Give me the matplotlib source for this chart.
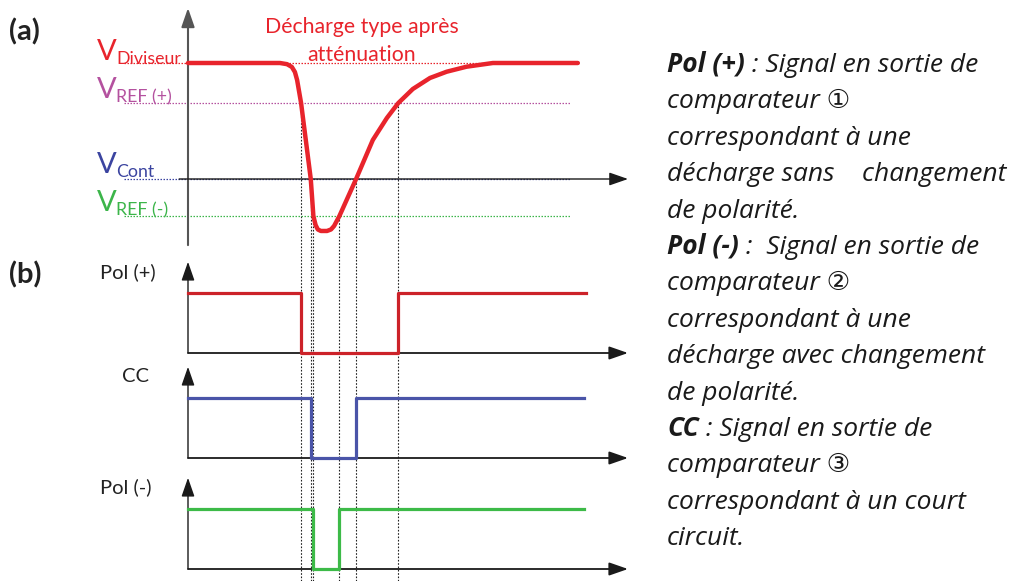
import matplotlib.pyplot as plt

plt.rcParams['font.family'] = ['Lato', 'DejaVu Sans']

# discharge waveform after attenuation (time in arbitrary units, voltage normalised to V_Diviseur)
t_curve = [0, 20.9, 22.5, 23.6, 24.3, 24.8, 25.7, 27.9, 28.5, 29.0, 29.5, 30.2, 31.6, 32.5,
           33.2, 34.4, 38.2, 42.0, 45.2, 47.8, 51.1, 55.0, 58.8, 63.3, 69.3, 88.6]
v_curve = [1.0, 1.0, 0.99, 0.966, 0.922, 0.853, 0.655, 0.0, -0.32, -0.397, -0.435, -0.448,
           -0.448, -0.435, -0.405, -0.32, 0.0, 0.336, 0.526, 0.655, 0.776, 0.871, 0.925,
           0.968, 1.0, 1.0]

# comparator thresholds
V_DIV = 1.0
V_REF_POS = 0.655
V_CONT = 0.0
V_REF_NEG = -0.32

# threshold crossings of the waveform
t_cross = [25.7, 27.9, 28.5, 34.4, 38.2, 47.8]
v_cross = [V_REF_POS, V_CONT, V_REF_NEG, V_REF_NEG, V_CONT, V_REF_POS]

# comparator outputs (logic 0/1)
pol_pos_t = [0, 25.7, 47.8, 90.5]
pol_pos_v = [1, 0, 1, 1]
cc_t = [0, 27.9, 38.2, 90.0]
cc_v = [1, 0, 1, 1]
pol_neg_t = [0, 28.5, 34.4, 90.0]
pol_neg_v = [1, 0, 1, 1]

W, H = 1023, 581
fig = plt.figure(figsize=(W / 100, H / 100), dpi=100)


def overlay(x0, sx, y0, sy):
    # transparent full-figure axes: x0/y0 = pixel of the origin, sx/sy = pixels per unit
    ax = fig.add_axes([0, 0, 1, 1])
    ax.set_xlim(-x0 / sx, (W - x0) / sx)
    ax.set_ylim((y0 - H) / sy, y0 / sy)
    ax.axis('off')
    ax.patch.set_alpha(0)
    return ax


def arrow(ax, start, end, color='#1a1a1a', lw=1.2):
    ax.annotate('', xy=end, xytext=start,
                arrowprops=dict(arrowstyle='-|>,head_length=1.15,head_width=0.4',
                                mutation_scale=10, color=color, lw=lw,
                                shrinkA=0, shrinkB=0))


RED = '#e8242c'
MAG = '#b4519f'
BLUE = '#3b44a0'
GREEN = '#3cb54a'

# ---- (a) waveform ----
ax_a = overlay(188, 4.4, 179, 116)
for lvl, col in [(V_DIV, RED), (V_REF_POS, MAG), (V_CONT, BLUE), (V_REF_NEG, GREEN)]:
    ax_a.plot([-14.5, 86.8], [lvl, lvl], color=col, lw=0.9, ls=(0, (1.2, 1.2)), zorder=2)
arrow(ax_a, (0, -0.57), (0, 1.474), color='#555555', lw=1.5)
arrow(ax_a, (-2, V_CONT), (100, V_CONT), color='#1a1a1a', lw=1.0)

# dotted drop lines from each crossing down to the bottom
bottom = -(H - 179) / 116
ax_a.vlines(t_cross, bottom, v_cross, colors='#222222', lw=0.8,
            linestyles=(0, (1.5, 1.5)), clip_on=False, zorder=1)

ax_a.plot(t_curve, v_curve, color=RED, lw=3.2, solid_capstyle='round',
          solid_joinstyle='round', zorder=5)

# ---- (b) comparator outputs ----
ax_p = overlay(188, 4.4, 353, 60)
ax_c = overlay(188, 4.4, 458, 60)
ax_n = overlay(188, 4.4, 569, 60)
for ax, tt, vv, col in [(ax_p, pol_pos_t, pol_pos_v, '#cc2229'),
                        (ax_c, cc_t, cc_v, '#4a54a8'),
                        (ax_n, pol_neg_t, pol_neg_v, '#3dba48')]:
    arrow(ax, (0, 0), (0, 1.52), lw=1.0)
    arrow(ax, (0, 0), (100, 0), color='#1a1a1a', lw=1.3)
    ax.plot(tt, vv, drawstyle='steps-post', color=col, lw=2.3, zorder=5)

# ---- texts (pixel coordinates) ----
ax_t = fig.add_axes([0, 0, 1, 1])
ax_t.set_xlim(0, W)
ax_t.set_ylim(H, 0)
ax_t.axis('off')
ax_t.patch.set_alpha(0)

ax_t.text(9, 40, '(a)', fontsize=21, fontweight='bold', color='#222222')
ax_t.text(9, 283, '(b)', fontsize=21, fontweight='bold', color='#222222')

ax_t.text(362, 33, 'Décharge type après', fontsize=15.3, color=RED, ha='center')
ax_t.text(362, 61, 'atténuation', fontsize=15.3, color=RED, ha='center')

for y, sub, col in [(60, 'Diviseur', RED), (98, 'REF (+)', MAG),
                    (173, 'Cont', BLUE), (211, 'REF (-)', GREEN)]:
    ax_t.text(97, y, 'V', fontsize=21, color=col)
    ax_t.text(116, y + 4, sub, fontsize=12.8, color=col)

ax_t.text(100, 278, 'Pol (+)', fontsize=14.5, color='#222222')
ax_t.text(122, 382, 'CC', fontsize=14.5, color='#222222')
ax_t.text(100, 493, 'Pol (-)', fontsize=14.5, color='#222222')

desc = [
    ('Pol (+)', ' : Signal en sortie de'),
    ('', 'comparateur ①'),
    ('', 'correspondant à une'),
    ('', 'décharge sans    changement'),
    ('', 'de polarité.'),
    ('Pol (-)', ' :  Signal en sortie de'),
    ('', 'comparateur ②'),
    ('', 'correspondant à une'),
    ('', 'décharge avec changement'),
    ('', 'de polarité.'),
    ('CC', ' : Signal en sortie de'),
    ('', 'comparateur ③'),
    ('', 'correspondant à un court'),
    ('', 'circuit.'),
]
desc_font = ['Open Sans', 'DejaVu Sans']
fig.canvas.draw()
renderer = fig.canvas.get_renderer()
for i, (bold, rest) in enumerate(desc):
    y = 72 + 36.4 * i
    x = 667
    if bold:
        tb = ax_t.text(x, y, bold, fontsize=19, style='italic', fontweight='bold',
                       family=desc_font, color='#1a1a1a')
        x1 = tb.get_window_extent(renderer).x1
        x = ax_t.transData.inverted().transform((x1, 0))[0]
    ax_t.text(x, y, rest, fontsize=19, style='italic', family=desc_font,
              color='#1a1a1a')

fig.savefig('out.png', dpi=100)
